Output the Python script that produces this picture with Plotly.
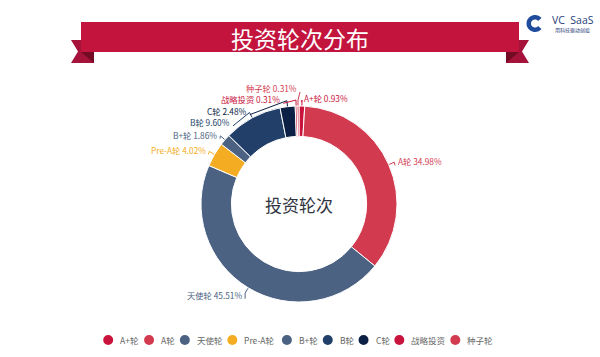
import numpy as np
import plotly.graph_objects as go

# ---------------- data ----------------
labels = ["A+轮", "A轮", "天使轮", "Pre-A轮", "B+轮", "B轮", "C轮", "战略投资", "种子轮"]
values = [0.93, 34.98, 45.51, 4.02, 1.86, 9.60, 2.48, 0.31, 0.31]
colors = ["#c8143c", "#d23a50", "#4b6282", "#f4ad22", "#4b6282",
          "#213f68", "#0c1f45", "#c8143c", "#d23a50"]
title_text = "投资轮次分布"
center_text = "投资轮次"
logo_text = "VC  SaaS"
logo_sub = "用科技驱动创投"

# ---------------- layout constants (pixels) ----------------
W, H = 600, 357
CX, CY, R = 299, 204, 98
HOLE = 0.69
FONT = "Noto Sans CJK SC"
LAB_FS = 8.3


def fx(x):
    return x / W


def fy(y):
    return 1 - y / H


fig = go.Figure()
fig.add_trace(go.Pie(
    labels=labels, values=values, sort=False, direction="clockwise", rotation=0,
    hole=HOLE, textinfo="none", showlegend=False, hoverinfo="label+percent",
    marker=dict(colors=colors, line=dict(color="white", width=1)),
    domain=dict(x=[fx(CX - R), fx(CX + R)], y=[fy(CY + R), fy(CY - R)]),
))

shapes = []
annotations = []

# ---------------- outside labels with leader lines ----------------
total = float(sum(values))
cum = np.cumsum([0] + values[:-1])
mids = (cum + np.array(values) / 2) / total * 2 * np.pi
RL = 106
GAP = 11.3
YMIN = CY - R - 18


def spread(ys, gap, ymin):
    n = len(ys)
    z = [y - i * gap for i, y in enumerate(ys)]
    blocks = []
    for v in z:
        blocks.append([v, 1])
        while len(blocks) > 1 and blocks[-2][0] / blocks[-2][1] > blocks[-1][0] / blocks[-1][1]:
            s, c = blocks.pop()
            blocks[-1][0] += s
            blocks[-1][1] += c
    out = []
    for s, c in blocks:
        out += [s / c] * c
    y = [o + i * gap for i, o in enumerate(out)]
    y[0] = max(y[0], ymin)
    for i in range(1, n):
        y[i] = max(y[i], y[i - 1] + gap)
    return y


info = []
for i, th in enumerate(mids):
    dx, dc = np.sin(th), np.cos(th)
    side = 1 if dx >= 0 else -1
    info.append(dict(i=i, th=th, side=side, y0=CY - RL * dc))

label_y = {}
for side in (1, -1):
    items = sorted([d for d in info if d["side"] == side], key=lambda d: d["y0"])
    ys = spread([d["y0"] for d in items], GAP, YMIN)
    for d, y in zip(items, ys):
        label_y[d["i"]] = y

for d in info:
    i, th, side = d["i"], d["th"], d["side"]
    ly = label_y[i]
    dy = ly - CY
    ax = CX + side * np.sqrt(max(RL ** 2 - dy ** 2, 0))
    p0 = (CX + (R + 0.5) * np.sin(th), CY - (R + 0.5) * np.cos(th))
    p1 = (CX + (R + 6) * np.sin(th), CY - (R + 6) * np.cos(th))
    p2 = (ax - side * 1, ly + 4)
    path = "M {} {} L {} {} L {} {}".format(fx(p0[0]), fy(p0[1]), fx(p1[0]), fy(p1[1]),
                                            fx(p2[0]), fy(p2[1]))
    shapes.append(dict(type="path", xref="paper", yref="paper", path=path,
                       line=dict(color=colors[i], width=1)))
    txt = "{} {:.2f}%".format(labels[i], values[i] / total * 100)
    annotations.append(dict(x=fx(ax + side * 1), y=fy(ly), xref="paper", yref="paper",
                            text=txt, showarrow=False, borderpad=0,
                            xanchor="left" if side > 0 else "right", yanchor="middle",
                            font=dict(family=FONT, size=LAB_FS, color=colors[i])))

# center text
annotations.append(dict(x=fx(CX), y=fy(CY + 1), xref="paper", yref="paper", text=center_text,
                        showarrow=False, xanchor="center", yanchor="middle",
                        font=dict(family=FONT, size=17, color="#2e3441")))

# ---------------- banner ----------------
BX0, BX1, BY0, BY1 = 81, 519, 22, 52
TAIL_W, TAIL_Y0, TAIL_Y1 = 23, 40, 63


def poly(pts):
    return "M " + " L ".join("{} {}".format(fx(x), fy(y)) for x, y in pts) + " Z"


for s in (1, -1):
    edge = BX0 if s == 1 else BX1
    outer = edge - s * 10
    inner = outer + s * TAIL_W
    tail = [(outer, TAIL_Y0), (inner, TAIL_Y0), (inner, TAIL_Y1), (outer, TAIL_Y1),
            (outer + s * 7, (TAIL_Y0 + TAIL_Y1) / 2)]
    shapes.append(dict(type="path", xref="paper", yref="paper", path=poly(tail),
                       fillcolor="#a5123a", line=dict(width=0)))
    fold = [(edge, BY1), (inner, BY1), (inner, TAIL_Y1)]
    shapes.append(dict(type="path", xref="paper", yref="paper", path=poly(fold),
                       fillcolor="#730b24", line=dict(width=0)))
shapes.append(dict(type="rect", xref="paper", yref="paper", x0=fx(BX0), x1=fx(BX1),
                   y0=fy(BY1), y1=fy(BY0), fillcolor="#c3143e", line=dict(width=0)))
annotations.append(dict(x=fx((BX0 + BX1) / 2), y=fy((BY0 + BY1) / 2 + 1), xref="paper", yref="paper",
                        text=title_text, showarrow=False, xanchor="center", yanchor="middle",
                        font=dict(family=FONT, size=23, color="white")))

# ---------------- logo ----------------
lc = (535, 23.5)
ang = np.linspace(np.radians(40), np.radians(320), 30)
outer_pts = [(lc[0] + 8.5 * np.cos(a), lc[1] - 8.5 * np.sin(a)) for a in ang]
inner_pts = [(lc[0] + 4.0 * np.cos(a), lc[1] - 4.0 * np.sin(a)) for a in ang[::-1]]
shapes.append(dict(type="path", xref="paper", yref="paper", path=poly(outer_pts + inner_pts),
                   fillcolor="#1f4c9c", line=dict(width=0)))
annotations.append(dict(x=fx(551), y=fy(20), xref="paper", yref="paper", text=logo_text,
                        showarrow=False, xanchor="left", yanchor="middle", borderpad=0,
                        font=dict(family="Open Sans", size=10.5, color="#2a4178")))
annotations.append(dict(x=fx(554), y=fy(30), xref="paper", yref="paper", text=logo_sub,
                        showarrow=False, xanchor="left", yanchor="middle", borderpad=0,
                        font=dict(family=FONT, size=5, color="#2a4178")))

# ---------------- legend (drawn manually with circle markers) ----------------
LEG_FS = 8.5
LEG_Y = 340


def text_w(s, fs):
    w = 0
    for ch in s:
        if ord(ch) > 0x2E80:
            w += fs
        elif ch in "+":
            w += 0.6 * fs
        elif ch in "-":
            w += 0.35 * fs
        else:
            w += 0.62 * fs
    return w


adv = [12 + text_w(l, LEG_FS) + 10 for l in labels]
span = sum(adv) - 10 + 5
x = 298 - span / 2 + 5
for l, c, a in zip(labels, colors, adv):
    shapes.append(dict(type="circle", xref="paper", yref="paper",
                       x0=fx(x - 5), x1=fx(x + 5), y0=fy(LEG_Y + 5), y1=fy(LEG_Y - 5),
                       fillcolor=c, line=dict(width=0)))
    annotations.append(dict(x=fx(x + 11), y=fy(LEG_Y), xref="paper", yref="paper", text=l,
                            showarrow=False, xanchor="left", yanchor="middle", borderpad=0,
                            font=dict(family=FONT, size=LEG_FS, color="#666666")))
    x += a

fig.update_layout(
    width=W, height=H, margin=dict(l=0, r=0, t=0, b=0),
    paper_bgcolor="white", plot_bgcolor="white",
    shapes=shapes, annotations=annotations, showlegend=False,
)
fig.write_html("out.html", config={"displayModeBar": False},
               post_script="document.body.style.margin='0';document.body.style.overflow='hidden';")
